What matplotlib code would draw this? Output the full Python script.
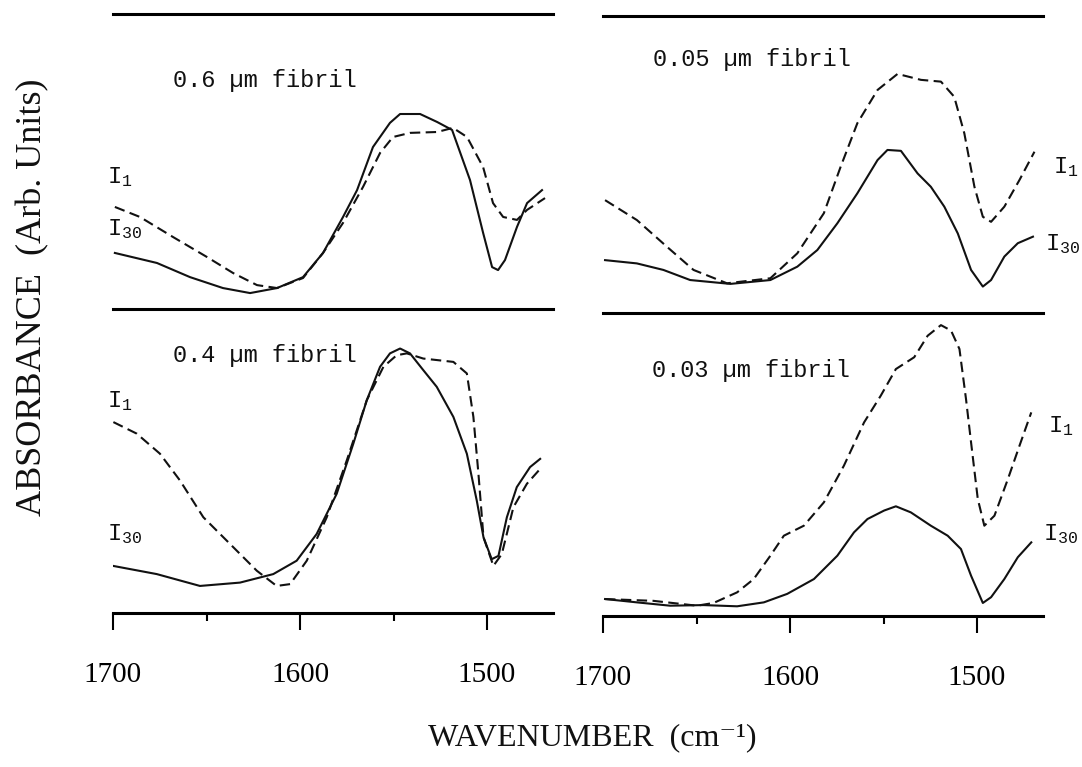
import numpy as np
import matplotlib
matplotlib.use("Agg")
import matplotlib.pyplot as plt

plt.rcParams['mathtext.fontset'] = 'custom'
plt.rcParams['mathtext.rm'] = 'Liberation Mono'
plt.rcParams['mathtext.it'] = 'Liberation Mono'

# 0.6 um fibril (top left)
wn_06_i30 = [1699, 1676.5, 1658.8, 1641.2, 1626.7, 1612.3, 1598.4, 1587.7, 1577.0, 1569.5, 1561.0,
             1551.9, 1546.5, 1535.8, 1526.7, 1518.7, 1509.1, 1502.1, 1497.3, 1494.1, 1490.4, 1484.0,
             1478.6, 1470.6]
abs_06_i30 = [19.0, 15.6, 10.8, 7.1, 5.4, 7.1, 10.8, 19.0, 31.2, 40.3, 54.9,
              63.1, 66.1, 66.1, 63.4, 60.7, 43.7, 25.8, 14.2, 13.2, 16.6, 27.8,
              35.9, 40.3]
wn_06_i1 = [1699, 1685.6, 1667.9, 1649.7, 1635.8, 1623.0, 1612.3, 1598.4, 1587.7, 1577.0, 1566.3,
            1557.2, 1550.3, 1541.2, 1526.7, 1518.2, 1510.7, 1502.1, 1496.8, 1491.4, 1484.0, 1478.6,
            1469.0]
abs_06_i1 = [34.6, 31.2, 24.4, 17.6, 12.2, 8.1, 7.1, 10.5, 19.0, 29.2, 41.4,
             52.9, 58.3, 59.7, 60.0, 61.4, 58.3, 48.1, 35.9, 31.2, 30.2, 33.6,
             37.6]

# 0.05 um fibril (top right)
wn_005_i30 = [1698.9, 1681.9, 1667.7, 1653.4, 1631.9, 1610.5, 1596.1, 1585.4, 1574.7, 1564.0, 1553.2,
              1547.9, 1540.7, 1531.8, 1524.7, 1517.5, 1510.3, 1503.2, 1496.9, 1492.5, 1485.4, 1478.2,
              1470.1]
abs_005_i30 = [17.8, 16.7, 14.5, 11.1, 9.8, 11.1, 15.6, 21.2, 30.2, 40.3, 51.5,
               54.9, 54.6, 47.0, 42.5, 35.8, 26.8, 14.5, 8.9, 11.1, 19.0, 23.5,
               25.7]
wn_005_i1 = [1698.9, 1681.9, 1665.8, 1651.6, 1633.7, 1610.5, 1596.1, 1581.9, 1572.9, 1564.0, 1553.2,
             1542.5, 1530.0, 1519.3, 1512.2, 1506.8, 1501.4, 1496.9, 1492.5, 1485.4, 1477.3, 1469.3]
abs_005_i1 = [38.0, 31.3, 22.3, 14.5, 10.0, 11.7, 20.1, 33.6, 49.3, 63.9, 75.1,
              80.5, 78.5, 77.9, 72.8, 60.5, 42.5, 32.4, 30.7, 35.8, 44.8, 54.3]

# 0.4 um fibril (bottom left)
wn_04_i30 = [1700, 1676.6, 1653.5, 1632.1, 1614.3, 1601.8, 1591.1, 1580.4, 1571.5, 1564.3, 1557.2,
             1551.9, 1546.5, 1541.2, 1534.1, 1526.9, 1518.0, 1510.8, 1505.5, 1501.9, 1497.5, 1493.9,
             1489.4, 1484.1, 1477.0, 1471.6]
abs_04_i30 = [15.5, 12.8, 8.9, 10.0, 12.8, 17.2, 26.0, 39.2, 55.7, 70.0, 81.0,
              85.4, 87.0, 85.4, 79.9, 74.4, 64.5, 52.4, 37.0, 24.9, 17.7, 18.8,
              31.5, 41.4, 48.0, 50.7]
wn_04_i1 = [1699.8, 1687.3, 1674.9, 1664.2, 1651.7, 1637.4, 1623.1, 1612.5, 1605.3, 1596.4, 1585.7,
            1575.0, 1564.3, 1555.4, 1548.3, 1542.9, 1534.1, 1518.0, 1510.8, 1507.3, 1504.6, 1501.9,
            1496.6, 1492.1, 1485.9, 1478.7, 1471.6]
abs_04_i1 = [62.8, 59.0, 52.4, 43.6, 31.5, 22.7, 13.9, 8.9, 9.5, 17.2, 31.5,
             50.2, 70.0, 81.0, 84.8, 85.4, 83.7, 82.6, 78.8, 64.5, 45.8, 24.9,
             15.5, 19.4, 34.8, 42.5, 47.4]

# 0.03 um fibril (bottom right)
wn_003_i30 = [1698.9, 1681.9, 1664.1, 1646.2, 1628.3, 1614.0, 1601.5, 1587.2, 1574.7, 1565.8, 1558.6,
              1549.7, 1543.4, 1535.4, 1524.7, 1515.7, 1508.6, 1503.2, 1496.9, 1492.5, 1485.4, 1478.2,
              1471.0]
abs_003_i30 = [5.6, 4.5, 3.4, 3.6, 3.2, 4.5, 7.3, 12.2, 19.9, 27.6, 32.0,
               34.8, 36.2, 34.2, 29.8, 26.5, 22.1, 13.3, 4.3, 6.2, 12.2, 19.4,
               24.3]
wn_003_i1 = [1698.9, 1673.0, 1649.8, 1640.9, 1628.3, 1619.4, 1610.5, 1603.3, 1592.6, 1581.9, 1571.2,
             1560.4, 1551.5, 1543.4, 1533.6, 1526.4, 1519.3, 1513.9, 1509.4, 1505.9, 1503.2, 1499.6,
             1496.1, 1490.7, 1483.5, 1477.3, 1471.0]
abs_003_i1 = [5.6, 5.0, 3.4, 4.3, 7.8, 12.2, 19.9, 26.5, 29.8, 37.5, 49.6,
              63.9, 72.7, 81.5, 85.4, 92.5, 96.0, 94.2, 88.1, 71.6, 57.3, 38.6,
              29.8, 33.1, 45.2, 56.2, 67.2]

panel_titles = ["0.6 \u00b5m fibril", "0.05 \u00b5m fibril", "0.4 \u00b5m fibril", "0.03 \u00b5m fibril"]
tick_values = [1700, 1600, 1500]
tick_labels = ["1700", "1600", "1500"]

mono = ['Liberation Mono', 'DejaVu Sans Mono']
serif = ['Liberation Serif', 'DejaVu Serif']
ink = '#111111'

W, H = 1082, 767
fig = plt.figure(figsize=(W / 100, H / 100), dpi=100)


def px_rect(x0, x1, ytop, ybot):
    return [x0 / W, 1 - ybot / H, (x1 - x0) / W, (ybot - ytop) / H]


def panel(rect, wn_a, ab_a, wn_b, ab_b, title, title_pos, lab1_pos, lab30_pos, bottom_axis):
    ax = fig.add_axes(rect)
    ax.set_facecolor('none')
    ax.plot(wn_a, ab_a, '-', color=ink, lw=1.5)
    ax.plot(wn_b, ab_b, '--', color=ink, lw=1.5, dashes=(5, 2.6))
    ax.set_xlim(1700, 1465)
    ax.set_ylim(0, 100)
    ax.set_yticks([])
    for s in ['left', 'right']:
        ax.spines[s].set_visible(False)
    ax.spines['bottom'].set_linewidth(2.2)
    ax.spines['top'].set_linewidth(2.2)
    if bottom_axis:
        ax.spines['top'].set_visible(False)
        ax.set_xticks(tick_values)
        ax.set_xticklabels(tick_labels, family=serif, fontsize=21)
        ax.set_xticks([1650, 1550], minor=True)
        ax.tick_params(axis='x', which='major', direction='out', length=12.5, width=1.5, pad=23)
        ax.tick_params(axis='x', which='minor', direction='out', length=5.5, width=1.5)
    else:
        ax.set_xticks([])
    ax.text(title_pos[0], title_pos[1], title, transform=ax.transAxes, family=mono,
            fontsize=17, va='baseline', ha='left', color=ink)
    ax.text(lab1_pos[0], lab1_pos[1], r'$\mathrm{I}_{1}$', transform=ax.transAxes,
            fontsize=17, va='baseline', ha='left', color=ink, clip_on=False)
    ax.text(lab30_pos[0], lab30_pos[1], r'$\mathrm{I}_{30}$', transform=ax.transAxes,
            fontsize=17, va='baseline', ha='left', color=ink, clip_on=False)
    return ax


panel(px_rect(113, 552.5, 14, 309), wn_06_i30, abs_06_i30, wn_06_i1, abs_06_i1,
      panel_titles[0], (0.137, 0.753), (-0.014, 0.427), (-0.014, 0.251), False)
panel(px_rect(603, 1042.5, 16, 313), wn_005_i30, abs_005_i30, wn_005_i1, abs_005_i1,
      panel_titles[1], (0.114, 0.832), (1.024, 0.471), (1.006, 0.212), False)
panel(px_rect(113, 552.5, 309, 613), wn_04_i30, abs_04_i30, wn_04_i1, abs_04_i1,
      panel_titles[2], (0.137, 0.826), (-0.014, 0.678), (-0.014, 0.24), True)
panel(px_rect(603, 1042.5, 313, 616), wn_003_i30, abs_003_i30, wn_003_i1, abs_003_i1,
      panel_titles[3], (0.111, 0.789), (1.013, 0.607), (1.001, 0.251), True)

fig.text(33 / W, 1 - 297 / H, "ABSORBANCE  (Arb. Units)", rotation=90, family=serif,
         fontsize=26, ha='center', va='center', color=ink)
fig.text(592 / W, 1 - 738 / H, "WAVENUMBER  (cm\u207b\u00b9)", family=serif,
         fontsize=23, ha='center', va='center', color=ink)

fig.savefig("out.png", dpi=100, facecolor='white')
